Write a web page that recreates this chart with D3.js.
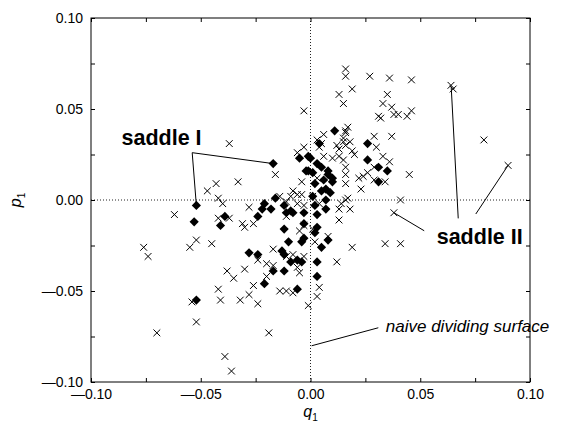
<!DOCTYPE html>
<html>
<head>
<meta charset="utf-8">
<script src="https://cdn.jsdelivr.net/npm/d3@7"></script>
<style>
  html, body { margin: 0; padding: 0; background: #fff; }
  svg { display: block; }
  text { font-family: "Liberation Sans", Arial, Helvetica, sans-serif; }
</style>
</head>
<body>
<svg id="chart" width="564" height="426"></svg>
<script>
// Phase-space coordinates (q1, p1) of trajectories crossing the dividing surface
const crossQ = [-0.037,-0.016,-0.033,-0.043,-0.047,-0.042,-0.040,-0.028,-0.014,-0.008,-0.011,-0.006,-0.062,-0.042,-0.037,-0.031,-0.030,-0.026,-0.011,-0.076,-0.074,-0.055,-0.052,-0.045,-0.024,-0.017,-0.008,-0.020,-0.017,-0.020,-0.006,-0.005,-0.038,-0.035,-0.030,-0.026,-0.028,-0.024,-0.032,-0.042,-0.041,-0.054,-0.052,-0.070,-0.019,-0.039,-0.036,-0.014,-0.011,-0.008,0.016,0.016,0.027,0.036,0.046,0.064,0.065,0.019,0.013,0.035,0.015,0.033,0.037,-0.003,0.031,0.032,0.038,0.040,0.044,0.046,0.079,0.090,0.017,0.016,0.006,0.029,0.037,0.003,-0.003,0.012,0.015,0.016,0.018,0.019,0.020,0.013,0.015,0.030,0.006,0.010,0.033,0.036,0.016,0.016,0.022,0.024,0.026,0.029,0.029,0.034,0.045,0.016,0.023,-0.004,0.001,0.041,0.016,0.017,0.038,0.013,0.018,0.013,0.019,0.034,0.041,0.012,0.004,0.003,-0.001,0.002,0.008,-0.005,0.004,0.013,0.003,-0.006,-0.009,-0.004,-0.006,-0.003,0.004,0.014,-0.003,0.001,-0.011,-0.003,0.005,0.015,0.016];
const crossP = [0.031,0.014,0.010,0.009,0.005,0.001,-0.002,-0.004,0.002,0.005,-0.001,0.026,-0.008,-0.010,-0.010,-0.013,-0.015,-0.013,-0.009,-0.026,-0.031,-0.026,-0.022,-0.024,-0.033,-0.027,-0.030,-0.035,-0.036,-0.042,-0.037,-0.040,-0.039,-0.043,-0.038,-0.047,-0.052,-0.057,-0.055,-0.049,-0.055,-0.056,-0.067,-0.073,-0.073,-0.086,-0.094,-0.050,-0.050,-0.051,0.072,0.068,0.068,0.067,0.066,0.063,0.061,0.061,0.058,0.058,0.053,0.053,0.051,0.049,0.046,0.045,0.047,0.047,0.046,0.049,0.033,0.019,0.040,0.038,0.036,0.035,0.035,0.033,0.029,0.030,0.034,0.030,0.032,0.027,0.025,0.024,0.022,0.029,0.024,0.023,0.024,0.021,0.018,0.014,0.012,0.013,0.015,0.018,0.011,0.010,0.014,0.009,0.006,0.010,0.002,0.000,0.000,0.001,-0.007,-0.005,-0.005,-0.011,-0.026,-0.024,-0.024,-0.034,-0.048,-0.053,-0.058,-0.023,-0.020,-0.017,0.029,0.028,0.012,0.003,0.002,0.003,-0.002,-0.003,-0.002,-0.002,-0.014,-0.016,-0.031,-0.031,0.031,0.032,0.037];

// Trajectories that reach the saddle regions (filled diamonds)
const diamondQ = [-0.017,-0.052,-0.053,-0.039,-0.041,-0.024,-0.022,-0.021,-0.018,-0.016,-0.011,-0.008,-0.012,-0.010,-0.028,-0.024,-0.013,-0.012,-0.009,-0.006,-0.017,-0.021,-0.012,-0.052,-0.006,0.011,0.004,0.026,-0.001,-0.005,0.026,0.031,0.035,-0.002,0.003,0.005,0.001,0.008,0.002,0.006,0.010,0.009,0.005,0.007,0.031,0.003,0.003,0.005,0.008,0.002,-0.003,-0.003,-0.003,0.003,0.001,0.007,-0.004,0.000,-0.001,0.010,0.008,0.007,-0.012,-0.009,0.002,0.003,-0.004];
const diamondP = [0.020,-0.003,-0.012,-0.009,-0.014,-0.009,-0.005,-0.002,-0.005,0.001,-0.007,-0.007,-0.016,-0.023,-0.029,-0.030,-0.028,-0.030,-0.034,-0.033,-0.039,-0.046,-0.039,-0.055,-0.049,0.038,0.031,0.031,0.024,0.023,0.022,0.018,0.016,0.016,0.020,0.018,0.015,0.014,0.009,0.011,0.010,0.004,0.005,0.000,0.010,-0.034,-0.042,-0.026,-0.022,-0.018,-0.021,-0.013,-0.007,-0.008,0.002,-0.005,-0.034,0.023,0.016,0.012,0.016,0.006,-0.003,-0.006,-0.003,-0.015,-0.023];

// Axis ticks
const tickValues = [-0.10,-0.075,-0.05,-0.025,0.00,0.025,0.05,0.075,0.10];
const labeledTicks = [-0.10,-0.05,0.00,0.05,0.10];

// Annotations: label text, label anchor, and leader lines [q0,p0,q1,p1]
const saddle1Label = { text: "saddle I", q: -0.0861, p: 0.0302 };
const saddle1Leaders = [[-0.0539,0.0260,-0.017,0.020],[-0.0539,0.0260,-0.052,-0.003]];
const saddle2Label = { text: "saddle II", q: 0.0575, p: -0.0242 };
const saddle2Leaders = [[0.0518,-0.0169,0.038,-0.007],[0.0673,-0.0101,0.0641,0.0623],[0.0753,-0.0077,0.090,0.019]];
const naiveLabel = { text: "naive dividing surface", q: 0.0343, p: -0.0724 };
const naiveLeaders = [[0.0309,-0.0702,0.0005,-0.0801]];

const W = 564, H = 426;
const margin = { left: 91, top: 18, right: 34, bottom: 44 };
const svg = d3.select("#chart");

const x = d3.scaleLinear().domain([-0.10, 0.10]).range([margin.left, W - margin.right]);
const y = d3.scaleLinear().domain([-0.10, 0.10]).range([H - margin.bottom, margin.top]);

// Two-decimal labels with a long dash as the minus sign
const fmt = d => d3.format(".2f")(d).replace("\u2212", "\u2014");
const labelFmt = d => labeledTicks.some(t => Math.abs(t - d) < 1e-9) ? fmt(d) : "";

// Zero lines (dotted)
svg.append("line")
  .attr("x1", x(0)).attr("x2", x(0))
  .attr("y1", y(-0.10)).attr("y2", y(0.10))
  .attr("stroke", "#222").attr("stroke-width", 1).attr("stroke-dasharray", "1,2");
svg.append("line")
  .attr("x1", x(-0.10)).attr("x2", x(0.10))
  .attr("y1", y(0)).attr("y2", y(0))
  .attr("stroke", "#222").attr("stroke-width", 1).attr("stroke-dasharray", "1,2");

// Axes with inward ticks on all four sides
function styleAxis(g) {
  g.select(".domain").remove();
  g.selectAll(".tick line").attr("stroke", "#000");
  g.selectAll(".tick text").attr("fill", "#000")
    .style("font-size", "14px")
    .style("font-family", "'Liberation Sans', Arial, Helvetica, sans-serif");
}
svg.append("g").attr("transform", `translate(0,${y(-0.10)})`)
  .call(d3.axisBottom(x).tickValues(tickValues).tickSize(-4).tickPadding(7).tickFormat(labelFmt))
  .call(styleAxis);
svg.append("g").attr("transform", `translate(0,${y(0.10)})`)
  .call(d3.axisTop(x).tickValues(tickValues).tickSize(-4).tickFormat(""))
  .call(styleAxis);
svg.append("g").attr("transform", `translate(${x(-0.10)},0)`)
  .call(d3.axisLeft(y).tickValues(tickValues).tickSize(-4).tickPadding(8).tickFormat(labelFmt))
  .call(styleAxis);
svg.append("g").attr("transform", `translate(${x(0.10)},0)`)
  .call(d3.axisRight(y).tickValues(tickValues).tickSize(-4).tickFormat(""))
  .call(styleAxis);

// Frame
svg.append("rect")
  .attr("x", x(-0.10)).attr("y", y(0.10))
  .attr("width", x(0.10) - x(-0.10)).attr("height", y(-0.10) - y(0.10))
  .attr("fill", "none").attr("stroke", "#000").attr("stroke-width", 1);

// Axis titles
const qt = svg.append("text")
  .attr("x", x(0)).attr("y", H - 9)
  .attr("text-anchor", "middle")
  .style("font-size", "16px");
qt.append("tspan").style("font-style", "italic").text("q");
qt.append("tspan").attr("dy", 4).style("font-size", "10px").text("1");

const pt = svg.append("text")
  .attr("transform", `translate(21,${y(0)}) rotate(-90)`)
  .attr("text-anchor", "middle")
  .style("font-size", "16px");
pt.append("tspan").style("font-style", "italic").text("p");
pt.append("tspan").attr("dy", 4).style("font-size", "10px").text("1");

// Crosses
const crosses = crossQ.map((q, i) => ({ q, p: crossP[i] }));
const cs = 3.4;
svg.append("g").selectAll("path").data(crosses).join("path")
  .attr("transform", d => `translate(${x(d.q)},${y(d.p)})`)
  .attr("d", `M${-cs},${-cs}L${cs},${cs}M${-cs},${cs}L${cs},${-cs}`)
  .attr("stroke", "#000").attr("stroke-width", 1).attr("fill", "none");

// Leader lines
const leaders = [...saddle1Leaders, ...saddle2Leaders, ...naiveLeaders];
svg.append("g").selectAll("line").data(leaders).join("line")
  .attr("x1", d => x(d[0])).attr("y1", d => y(d[1]))
  .attr("x2", d => x(d[2])).attr("y2", d => y(d[3]))
  .attr("stroke", "#000").attr("stroke-width", 1);

// Diamonds
const diamonds = diamondQ.map((q, i) => ({ q, p: diamondP[i] }));
const ds = 4.6;
svg.append("g").selectAll("path").data(diamonds).join("path")
  .attr("transform", d => `translate(${x(d.q)},${y(d.p)})`)
  .attr("d", `M0,${-ds}L${ds},0L0,${ds}L${-ds},0Z`)
  .attr("fill", "#000");

// Labels
[saddle1Label, saddle2Label].forEach(l => {
  svg.append("text")
    .attr("x", x(l.q)).attr("y", y(l.p))
    .style("font-size", "21.5px").style("font-weight", "bold")
    .text(l.text);
});
svg.append("text")
  .attr("x", x(naiveLabel.q)).attr("y", y(naiveLabel.p))
  .style("font-size", "17px").style("font-style", "italic")
  .text(naiveLabel.text);
</script>
</body>
</html>
